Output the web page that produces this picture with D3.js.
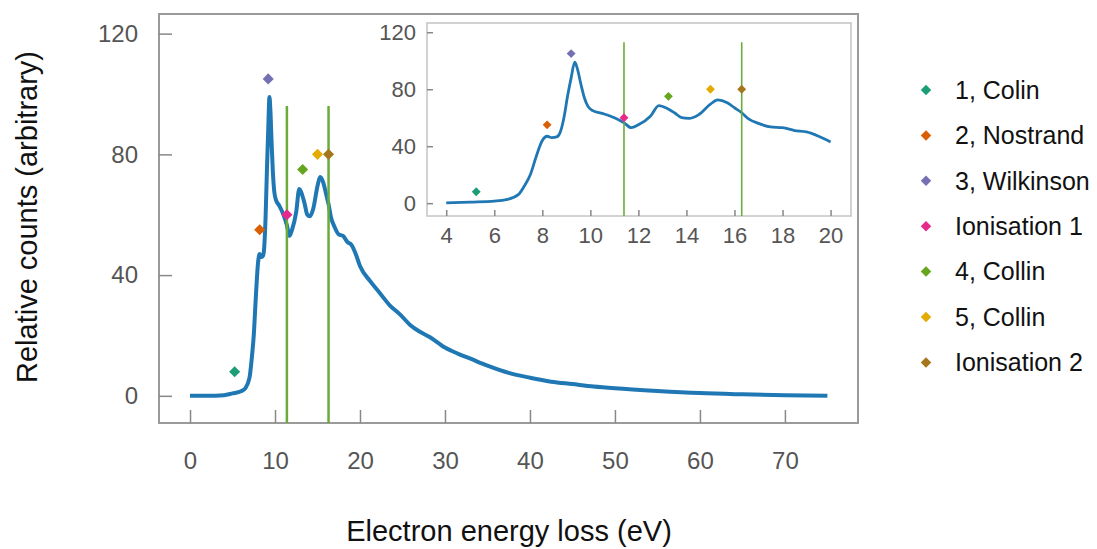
<!DOCTYPE html>
<html lang="en">
<head>
    <meta charset="UTF-8">
    <title>Electron energy loss</title>
    <script src="https://d3js.org/d3.v7.min.js"></script>
    <style>
        body { margin: 0; background: #fff; }
        text { font-family: "Liberation Sans", Arial, sans-serif; }
        .tick text { fill: #555; }
        .tick line { stroke: #888; stroke-width: 1.5; }
    </style>
</head>
<body>
    <div id="plot"></div>

    <script>
        // spectrum
        let energy = [0, 2, 4, 5, 6, 6.5, 7, 7.25, 7.5, 7.75, 8, 8.2, 8.4, 8.6, 8.75, 8.9, 9.05, 9.2, 9.35, 9.45,
                      9.6, 9.75, 9.9, 10.1, 10.5, 11, 11.4, 11.7, 12, 12.5, 12.85, 13.2, 13.5, 13.8, 14.1, 14.5,
                      15, 15.3, 15.7, 16, 16.3, 16.6, 17, 17.5, 18, 18.5, 19, 19.5, 20, 21.2, 22.35, 23.5, 24.7,
                      25.9, 27, 28.2, 30, 31.5, 33, 35, 37.5, 40, 42.5, 45, 47.5, 50, 55, 60, 65, 70, 75];
        let counts = [0, 0, 0.2, 0.8, 1.5, 2.5, 6, 12, 20, 33, 44, 47, 46, 46.5, 50, 60, 75, 88, 99, 95,
                      84, 74, 68, 65, 63, 60, 56.5, 53, 55, 61, 68.5, 66.5, 63.5, 60, 59.5, 62,
                      69.5, 72.5, 70.5, 67, 63.5, 59, 56, 53.5, 53, 51, 50, 47, 43, 38, 34, 30, 27,
                      23.5, 21.3, 19.5, 16, 14, 12.3, 10, 7.6, 6, 4.7, 3.9, 3.1, 2.5, 1.6, 0.9, 0.5, 0.2, 0];

        let markerNames = ['1, Colin', '2, Nostrand', '3, Wilkinson', 'Ionisation 1', '4, Collin', '5, Collin', 'Ionisation 2'];
        let markerX = [5.25, 8.2, 9.2, 11.4, 13.25, 15, 16.3];
        let markerY = [8, 55, 105, 60, 75, 80, 80];

        let ionEnergy = [11.4, 16.3];
        let ionTopMain = 96;
        let ionTopInset = 113;

        let mainXTicks = [0, 10, 20, 30, 40, 50, 60, 70];
        let insetXTicks = [4, 6, 8, 10, 12, 14, 16, 18, 20];
        let yTicks = [0, 40, 80, 120];

        let spectrum = energy.map((e, i) => ({x: e, y: counts[i]}));
        let markers = markerNames.map((n, i) => ({name: n, x: markerX[i], y: markerY[i]}));

        let color = d3.scaleOrdinal().domain(markerNames).range(d3.schemeDark2);
        let diamond = d3.symbol().type(d3.symbolDiamond2);

        let svg = d3.select('#plot').append('svg')
            .attr('width', 1097).attr('height', 549);

        function panel(opt){
            let g = svg.append('g').attr('transform', 'translate(' + opt.left + ',' + opt.top + ')');
            let x = d3.scaleLinear().domain(opt.xDomain).range([0, opt.w]);
            let y = d3.scaleLinear().domain([-9, 126.5]).range([opt.h, 0]);

            g.append('rect').attr('width', opt.w).attr('height', opt.h)
                .attr('fill', 'none').attr('stroke', opt.frame).attr('stroke-width', opt.frameWidth);

            let xa = g.append('g').attr('transform', 'translate(0,' + opt.h + ')')
                .call(d3.axisBottom(x).tickValues(opt.xTicks).tickSizeInner(-opt.tick).tickSizeOuter(0).tickPadding(opt.xPad));
            let ya = g.append('g')
                .call(d3.axisLeft(y).tickValues(yTicks).tickSizeInner(-opt.tick).tickSizeOuter(0).tickPadding(opt.yPad));
            [xa, ya].forEach(a => {
                a.select('.domain').remove();
                a.selectAll('text').style('font-size', opt.font + 'px').attr('font-family', null);
            });

            let data = spectrum.filter(d => d.x >= opt.xDomain[0] && d.x <= opt.xDomain[1]);
            g.append('path').datum(data)
                .attr('fill', 'none').attr('stroke', '#1f77b4')
                .attr('stroke-width', opt.lineWidth).attr('stroke-linejoin', 'round')
                .attr('d', d3.line().x(d => x(d.x)).y(d => y(d.y)).curve(d3.curveMonotoneX));

            g.selectAll('line.ion').data(ionEnergy).join('line')
                .attr('class', 'ion')
                .attr('x1', d => x(d)).attr('x2', d => x(d))
                .attr('y1', y(opt.ionTop)).attr('y2', opt.h)
                .attr('stroke', '#6aab3a').attr('stroke-width', opt.ionWidth);

            g.selectAll('path.mk').data(markers).join('path')
                .attr('class', 'mk')
                .attr('transform', d => 'translate(' + x(d.x) + ',' + y(d.y) + ')')
                .attr('d', diamond.size(opt.markSize)())
                .attr('fill', d => color(d.name));
        }

        panel({left: 159, top: 14, w: 699, h: 409, xDomain: [-3.65, 78.6], xTicks: mainXTicks,
               tick: 13, xPad: 29, yPad: 21, font: 24, lineWidth: 4, ionTop: ionTopMain, ionWidth: 2.5,
               markSize: 78, frame: '#9a9a9a', frameWidth: 2});

        panel({left: 427, top: 23, w: 424, h: 193, xDomain: [3.2, 20.85], xTicks: insetXTicks,
               tick: 6, xPad: 11, yPad: 11, font: 22, lineWidth: 2.8, ionTop: ionTopInset, ionWidth: 1.6,
               markSize: 50, frame: '#c4c4c4', frameWidth: 1.5});

        // axis titles
        svg.append('text').attr('x', 509).attr('y', 541)
            .attr('text-anchor', 'middle').style('font-size', '29px').attr('fill', '#111')
            .text('Electron energy loss (eV)');
        svg.append('text').attr('transform', 'translate(37,217) rotate(-90)')
            .attr('text-anchor', 'middle').style('font-size', '29px').attr('fill', '#111')
            .text('Relative counts (arbitrary)');

        // legend
        let legend = svg.append('g').attr('transform', 'translate(926,90)');
        let rows = legend.selectAll('g').data(markers).join('g')
            .attr('transform', (d, i) => 'translate(0,' + (i * 45.4) + ')');
        rows.append('path').attr('d', diamond.size(70)()).attr('fill', d => color(d.name));
        rows.append('text').attr('x', 29).attr('dy', '0.35em')
            .style('font-size', '25px').attr('fill', '#111')
            .text(d => d.name);
    </script>
</body>
</html>
